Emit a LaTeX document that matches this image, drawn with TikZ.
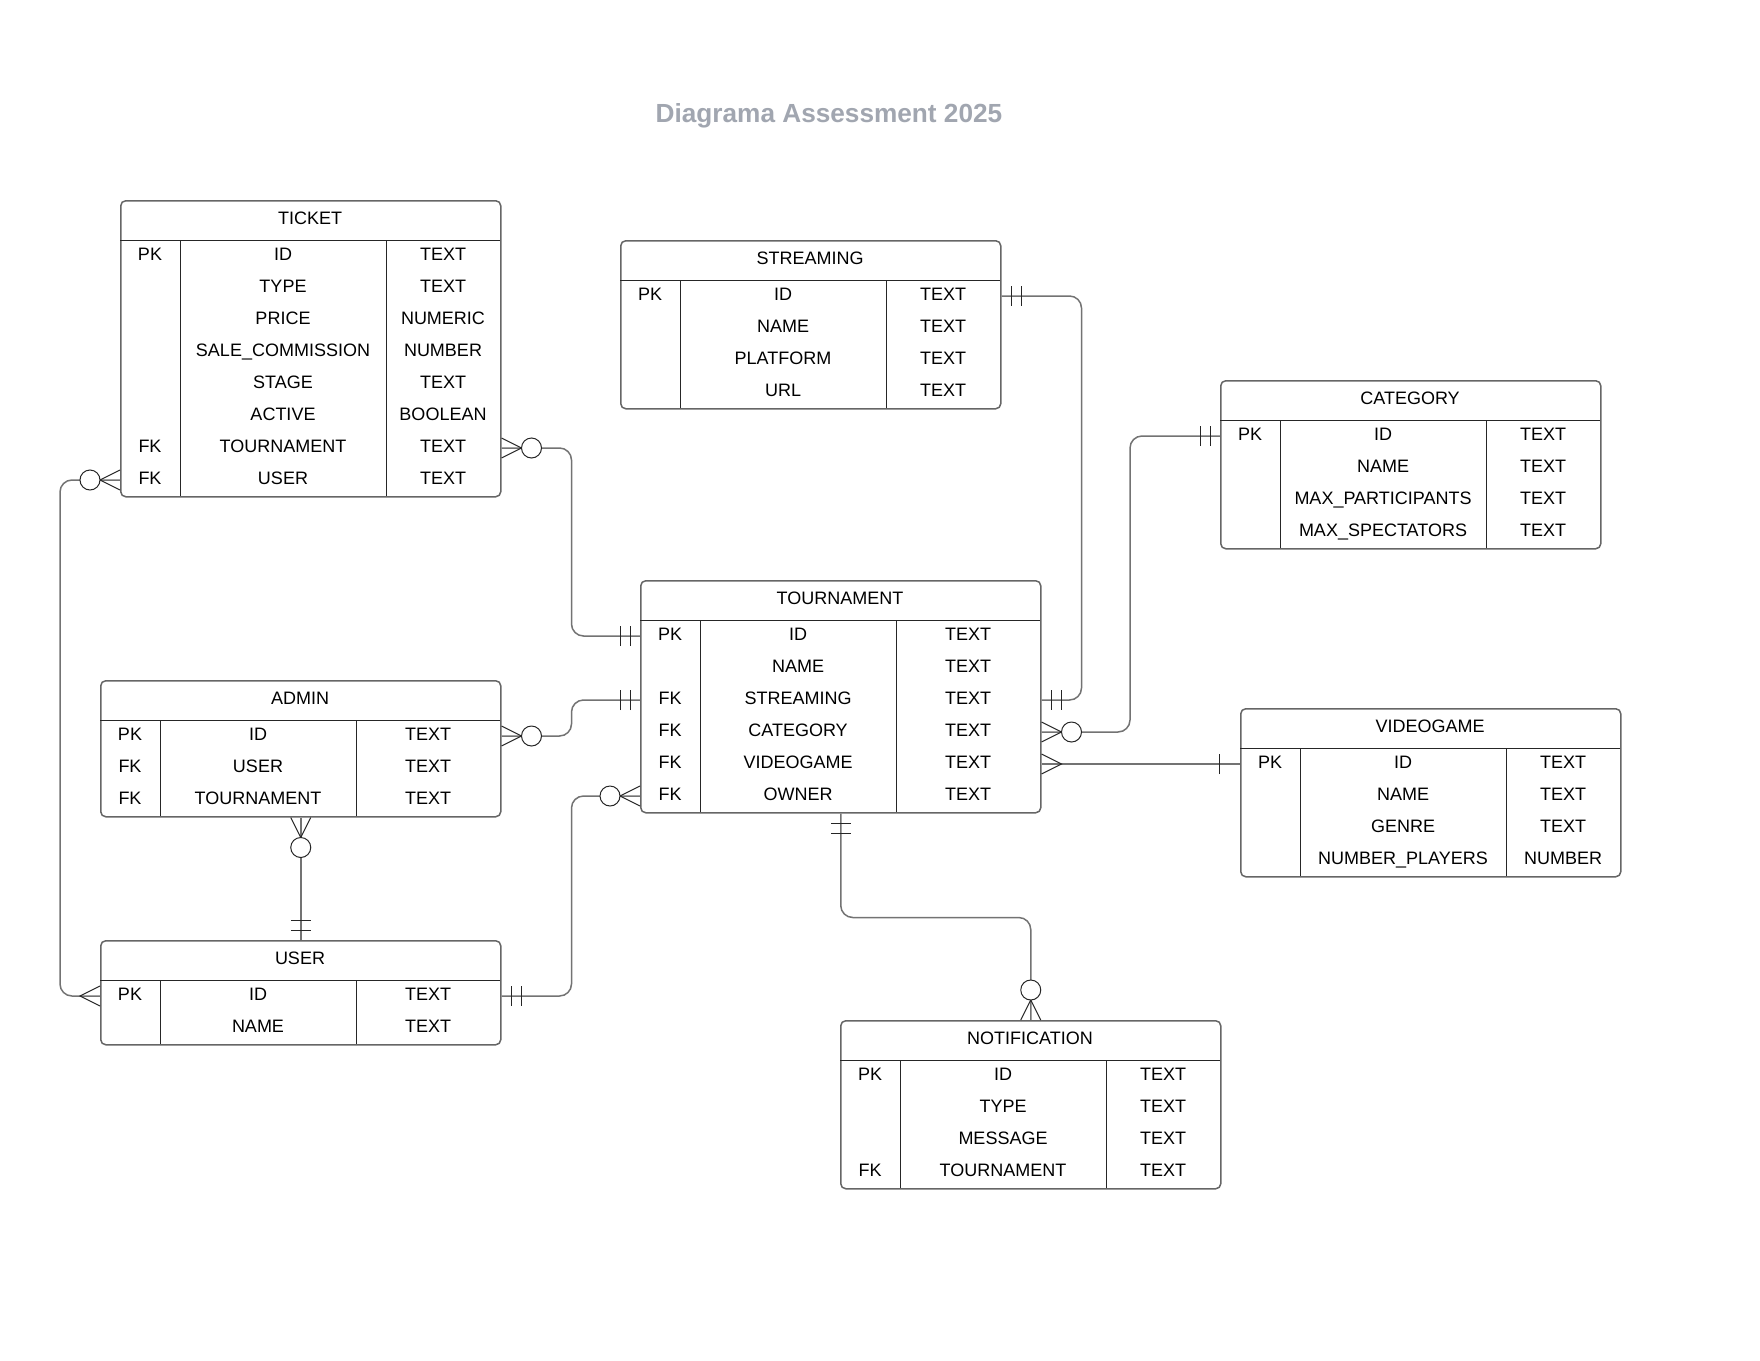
\documentclass[tikz,border=0pt]{standalone}
\usepackage{fontspec}
\setmainfont{Liberation Sans}
\usetikzlibrary{positioning,calc}

\definecolor{titlegray}{RGB}{161,166,176}

\tikzset{
  erbox/.style={draw=black!60, line width=0.75pt, rounded corners=2.5pt,
    anchor=north west, inner sep=0pt},
  erline/.style={draw=black!85, line width=0.5pt},
  ertext/.style={anchor=base, inner sep=0pt, font=\fontsize{9}{11}\selectfont},
  erlink/.style={draw=black!55, line width=0.75pt, rounded corners=6pt},
  ermark/.style={draw=black!85, line width=0.5pt},
  % crow's foot ends, x axis points away from the table
  erone/.pic={\draw[ermark] (21,-10) -- (21,10);},
  eroneonly/.pic={\draw[ermark] (10,-10) -- (10,10) (20,-10) -- (20,10);},
  ermany/.pic={\draw[ermark] (0,-10) -- (20,0) -- (0,10);},
  erzeromany/.pic={\draw[ermark] (0,-10) -- (20,0) -- (0,10);
    \draw[ermark, fill=white] (30,0) circle[radius=5pt];}
}

% #1 name, #2 top left, #3 rows, #4 field width, #5 type width, #6 title, #7 key/field/type
\newcommand{\ertable}[7]{%
  \begin{scope}[shift={(#2)}]
    \node[erbox, minimum width={(60+#4+#5)*0.5pt}, minimum height={(40+32*#3)*0.5pt}] (#1) at (0,0) {};
    \node[ertext] (#1-title) at ({(60+#4+#5)/2},24) {#6};
    \draw[erline] (0,40) -- ({60+#4+#5},40)
      (60,40) -- (60,{40+32*#3})
      ({60+#4},40) -- ({60+#4},{40+32*#3});
    \foreach \k/\f/\t [count=\i] in {#7} {
      \coordinate (#1-\i) at (0,{24+32*\i});
      \node[ertext] (#1-k\i) at (30,{28.5+32*\i}) {\k};
      \node[ertext] (#1-f\i) at ({60+#4/2},{28.5+32*\i}) {\f};
      \node[ertext] (#1-t\i) at ({60+#4+#5/2},{28.5+32*\i}) {\t};
    }
  \end{scope}}

\begin{document}
\begin{tikzpicture}[x=0.5pt, y=-0.5pt]
\fill[white] (0,0) rectangle (1760,1360);
\useasboundingbox (0,0) rectangle (1760,1360);

\node[anchor=base, inner sep=0pt, text=titlegray, font=\bfseries\fontsize{13.1}{15}\selectfont]
  (title) at (829,122.5) {Diagrama Assessment 2025};

% tables
\ertable{ticket}{120,200}{8}{206}{114}{TICKET}{PK/ID/TEXT, /TYPE/TEXT, /PRICE/NUMERIC,
  /SALE\_COMMISSION/NUMBER, /STAGE/TEXT, /ACTIVE/BOOLEAN, FK/TOURNAMENT/TEXT, FK/USER/TEXT}
\ertable{streaming}{620,240}{4}{206}{114}{STREAMING}{PK/ID/TEXT, /NAME/TEXT, /PLATFORM/TEXT, /URL/TEXT}
\ertable{category}{1220,380}{4}{206}{114}{CATEGORY}{PK/ID/TEXT, /NAME/TEXT,
  /MAX\_PARTICIPANTS/TEXT, /MAX\_SPECTATORS/TEXT}
\ertable{tournament}{640,580}{6}{196}{144}{TOURNAMENT}{PK/ID/TEXT, /NAME/TEXT, FK/STREAMING/TEXT,
  FK/CATEGORY/TEXT, FK/VIDEOGAME/TEXT, FK/OWNER/TEXT}
\ertable{admin}{100,680}{3}{196}{144}{ADMIN}{PK/ID/TEXT, FK/USER/TEXT, FK/TOURNAMENT/TEXT}
\ertable{videogame}{1240,708}{4}{206}{114}{VIDEOGAME}{PK/ID/TEXT, /NAME/TEXT, /GENRE/TEXT,
  /NUMBER\_PLAYERS/NUMBER}
\ertable{user}{100,940}{2}{196}{144}{USER}{PK/ID/TEXT, /NAME/TEXT}
\ertable{notification}{840,1020}{4}{206}{114}{NOTIFICATION}{PK/ID/TEXT, /TYPE/TEXT,
  /MESSAGE/TEXT, FK/TOURNAMENT/TEXT}

% relations
\draw[erlink] (ticket.east |- ticket-7) -- ++(70,0) |- (tournament.west |- tournament-1);
\draw[erlink] (ticket.west |- ticket-8) -- ++(-60,0) |- (user.west |- user-1);
\draw[erlink] (admin.east |- admin-1) -- ++(70,0) |- (tournament.west |- tournament-3);
\draw[erlink] (admin.south) -- (user.north);
\draw[erlink] (user.east |- user-1) -- ++(70,0) |- (tournament.west |- tournament-6);
\draw[erlink] (streaming.east |- streaming-1) -- ++(80,0) |- (tournament.east |- tournament-3);
\draw[erlink] (category.west |- category-1) -- ++(-90,0) |- (tournament.east |- tournament-4);
\draw[erlink] (videogame.west |- videogame-1) -- (tournament.east |- tournament-5);
\draw[erlink] (tournament.south) -- ++(0,104) -| (notification.north);

% ends
\pic at (ticket.east |- ticket-7) {erzeromany};
\pic[rotate=180] at (tournament.west |- tournament-1) {eroneonly};
\pic[rotate=180] at (ticket.west |- ticket-8) {erzeromany};
\pic[rotate=180] at (user.west |- user-1) {ermany};
\pic at (admin.east |- admin-1) {erzeromany};
\pic[rotate=180] at (tournament.west |- tournament-3) {eroneonly};
\pic[rotate=270] at (admin.south) {erzeromany};
\pic[rotate=90] at (user.north) {eroneonly};
\pic at (user.east |- user-1) {eroneonly};
\pic[rotate=180] at (tournament.west |- tournament-6) {erzeromany};
\pic at (streaming.east |- streaming-1) {eroneonly};
\pic at (tournament.east |- tournament-3) {eroneonly};
\pic[rotate=180] at (category.west |- category-1) {eroneonly};
\pic at (tournament.east |- tournament-4) {erzeromany};
\pic[rotate=180] at (videogame.west |- videogame-1) {erone};
\pic at (tournament.east |- tournament-5) {ermany};
\pic[rotate=270] at (tournament.south) {eroneonly};
\pic[rotate=90] at (notification.north) {erzeromany};
\end{tikzpicture}
\end{document}
